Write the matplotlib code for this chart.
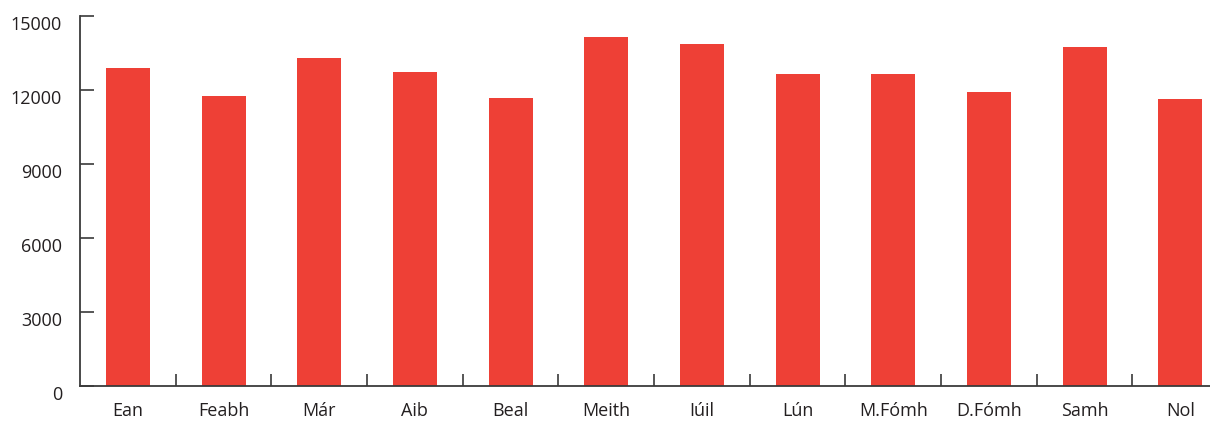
import matplotlib
matplotlib.use("Agg")
import matplotlib.pyplot as plt
import matplotlib.transforms as mtransforms
import numpy as np

months = ["Ean", "Feabh", "Már", "Aib", "Beal", "Meith",
          "Iúil", "Lún", "M.Fómh", "D.Fómh", "Samh", "Nol"]
values = [12870, 11740, 13280, 12710, 11660, 14130,
          13850, 12630, 12630, 11900, 13720, 11620]
yticks = [0, 3000, 6000, 9000, 12000, 15000]

plt.rcParams["font.family"] = ["Open Sans", "DejaVu Sans"]

bar_color = "#EE4036"
axis_color = "#3a3a3a"
text_color = "#231F20"

fig = plt.figure(figsize=(12.1, 4.21), dpi=100)
ax = fig.add_axes([80 / 1210, 35.5 / 421, 1 - 80 / 1210, 370 / 421])

x = np.arange(len(months))
ax.bar(x, values, width=0.46, color=bar_color, zorder=2)

ax.set_xlim(-0.5, 11.31)
ax.set_ylim(0, 15000)

# spines
for s in ["top", "right"]:
    ax.spines[s].set_visible(False)
for s in ["left", "bottom"]:
    ax.spines[s].set_color(axis_color)
    ax.spines[s].set_linewidth(1.3)

# y axis: inward ticks, labels nudged down a little
ax.set_yticks(yticks)
ax.set_yticklabels([str(v) for v in yticks])
ax.tick_params(axis="y", direction="in", length=10, width=1.2,
               color=axis_color, pad=13, labelsize=13, labelcolor=text_color)
offset = mtransforms.ScaledTranslation(0, -7 / 100, fig.dpi_scale_trans)
for lab in ax.get_yticklabels():
    lab.set_transform(lab.get_transform() + offset)

# x axis: labels at centres, separator ticks between categories
ax.set_xticks(x)
ax.set_xticklabels(months)
ax.set_xticks(x[:-1] + 0.5, minor=True)
ax.tick_params(axis="x", which="major", length=0, pad=12,
               labelsize=13, labelcolor=text_color)
ax.tick_params(axis="x", which="minor", direction="in", length=9,
               width=1.2, color=axis_color)

fig.savefig("out.png", dpi=100)
plt.close(fig)
